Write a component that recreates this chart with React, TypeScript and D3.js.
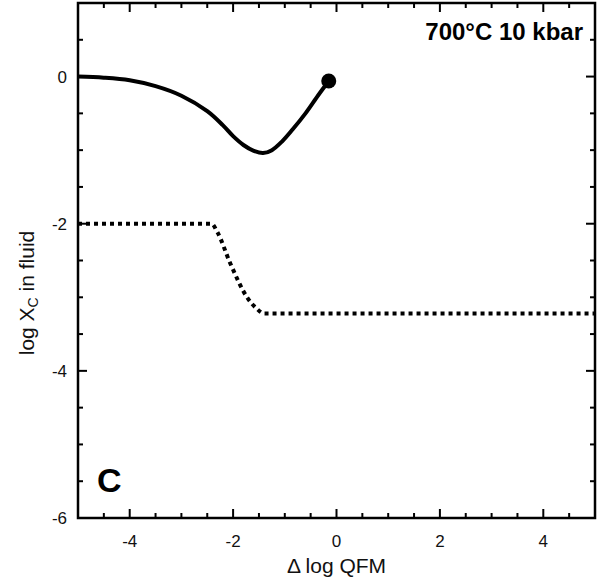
import React from "react";
import * as d3 from "d3";

const solidX = [-5, -4.5, -4, -3.5, -3, -2.5, -2.2, -2.0, -1.8, -1.6, -1.42, -1.25, -1.05, -0.85, -0.6, -0.35, -0.15];
const solidY = [0, -0.015, -0.05, -0.13, -0.26, -0.47, -0.66, -0.81, -0.93, -1.01, -1.04, -1.0, -0.88, -0.72, -0.5, -0.25, -0.06];
const dottedX = [-5, -2.42, -2.3, -2.06, -1.73, -1.55, -1.4, 5];
const dottedY = [-2, -2, -2.12, -2.53, -3.0, -3.15, -3.22, -3.22];
const xTickLabels = [-4, -2, 0, 2, 4];
const yTickLabels = [0, -2, -4, -6];
const xDomain = [-5, 5];
const yDomain = [-6, 1];

const W = 598, H = 582;
const L = 78, R = 595, T = 3, B = 518;

export default function App() {
  const x = d3.scaleLinear().domain(xDomain).range([L, R]);
  const y = d3.scaleLinear().domain(yDomain).range([B, T]);
  const solid = d3.line<number>().x((d, i) => x(solidX[i])).y((d, i) => y(solidY[i])).curve(d3.curveCatmullRom.alpha(0.5));
  const dotted = d3.line<number>().x((d, i) => x(dottedX[i])).y((d, i) => y(dottedY[i])).curve(d3.curveMonotoneX);
  const xt = d3.range(0, 21).map((i) => xDomain[0] + i * 0.5);
  const yt = d3.range(0, 15).map((i) => yDomain[0] + i * 0.5);
  const isMajor = (v: number) => Math.abs(v % 2) < 1e-6;
  const font = "Liberation Sans, Arial, sans-serif";
  const last = solidX.length - 1;
  const ticks: React.ReactElement[] = [];
  xt.forEach((v, i) => {
    const len = isMajor(v) ? 9 : 5;
    ticks.push(<line key={"xb" + i} x1={x(v)} x2={x(v)} y1={B} y2={B - len} stroke="#000" strokeWidth={2} />);
    ticks.push(<line key={"xt" + i} x1={x(v)} x2={x(v)} y1={T} y2={T + len} stroke="#000" strokeWidth={2} />);
  });
  yt.forEach((v, i) => {
    const len = isMajor(v) ? 9 : 5;
    ticks.push(<line key={"yl" + i} x1={L} x2={L + len} y1={y(v)} y2={y(v)} stroke="#000" strokeWidth={2} />);
    ticks.push(<line key={"yr" + i} x1={R} x2={R - len} y1={y(v)} y2={y(v)} stroke="#000" strokeWidth={2} />);
  });
  return (
    <svg width={W} height={H} style={{ position: "absolute", left: 0, top: 0, background: "#fff" }} fontFamily={font}>
      <rect x={0} y={0} width={W} height={H} fill="#fff" />
      <g>{ticks}</g>
      <path d={dotted(dottedX) || ""} fill="none" stroke="#000" strokeWidth={4} strokeDasharray="4,4" />
      <path d={solid(solidX) || ""} fill="none" stroke="#000" strokeWidth={4} />
      <circle cx={x(solidX[last])} cy={y(solidY[last])} r={7.5} fill="#000" />
      <rect x={L} y={T} width={R - L} height={B - T} fill="none" stroke="#000" strokeWidth={2.5} />
      {xTickLabels.map((v) => (
        <text key={"xl" + v} x={x(v)} y={547} textAnchor="middle" fontSize={17} fill="#111">{v}</text>
      ))}
      {yTickLabels.map((v) => (
        <text key={"yl" + v} x={67} y={y(v)} dy="0.35em" textAnchor="end" fontSize={17} fill="#111">{v}</text>
      ))}
      <text x={(L + R) / 2} y={573} textAnchor="middle" fontSize={21} fill="#111">Δ log QFM</text>
      <text transform={`translate(34,293) rotate(-90)`} textAnchor="middle" fontSize={21} fill="#111">
        log X<tspan fontSize={14} dy={4}>C</tspan><tspan dy={-4}> in fluid</tspan>
      </text>
      <text x={583} y={40} textAnchor="end" fontSize={24} fontWeight="bold" fill="#000">700°C 10 kbar</text>
      <text x={97} y={492} fontSize={34} fontWeight="bold" fill="#000">C</text>
    </svg>
  );
}
